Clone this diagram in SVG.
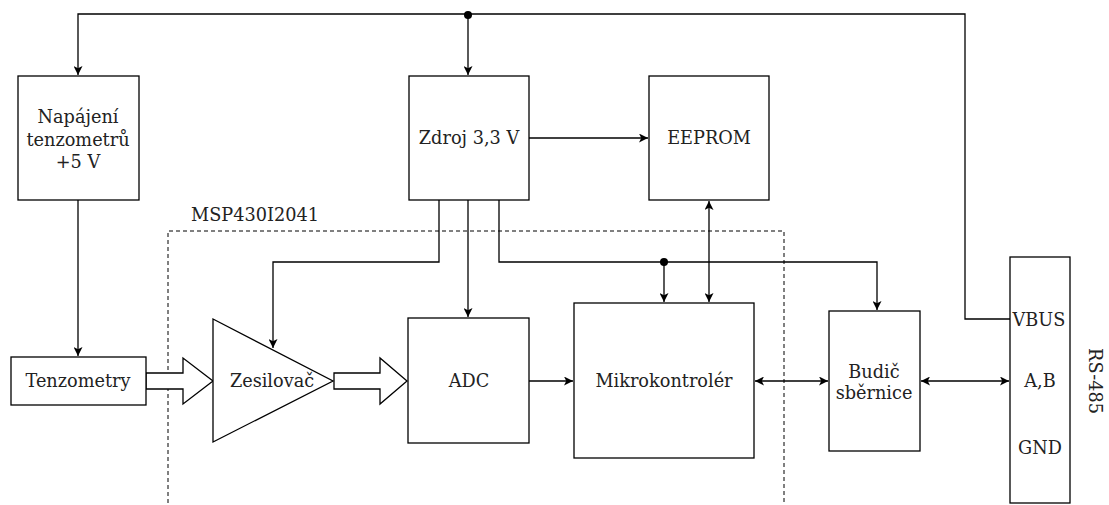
<svg xmlns="http://www.w3.org/2000/svg" width="1109" height="505" viewBox="0 0 1109 505">
<style>
.box{fill:#fff;stroke:#000;stroke-width:1.3}
.ln{fill:none;stroke:#000;stroke-width:1.3}
.t{font-family:'DejaVu Serif',serif;font-size:17.7px;fill:#222;text-anchor:middle;dominant-baseline:central}
.dot{fill:#000}
</style>
<defs>
<marker id="ah" viewBox="0 0 10 10" refX="10" refY="5" markerWidth="9" markerHeight="9" markerUnits="userSpaceOnUse" orient="auto-start-reverse">
<path d="M0,0 L10,5 L0,10 L2.5,5 Z" fill="#000"/>
</marker>
</defs>
<rect width="1109" height="505" fill="#fff"/>
<g id="msp430">
<path d="M168,510 V231 H784 V510" fill="none" stroke="#000" stroke-width="1" stroke-dasharray="4,3"/>
<text class="t" x="255" y="215">MSP430I2041</text>
</g>
<g id="connectors">
<path class="ln" d="M1010,319 H965 V14 H78 V75" marker-end="url(#ah)"/>
<path class="ln" d="M468,14 V75" marker-end="url(#ah)"/>
<circle class="dot" cx="468" cy="15" r="4"/>
<path class="ln" d="M78,200 V356" marker-end="url(#ah)"/>
<path class="ln" d="M529,138 H648" marker-end="url(#ah)"/>
<path class="ln" d="M439,200 V262 H273 V348" marker-end="url(#ah)"/>
<path class="ln" d="M468,200 V317" marker-end="url(#ah)"/>
<path class="ln" d="M499,200 V262 H877 V310" marker-end="url(#ah)"/>
<circle class="dot" cx="664" cy="262" r="4"/>
<path class="ln" d="M664,262 V302" marker-end="url(#ah)"/>
<path class="ln" d="M709,201 V302" marker-start="url(#ah)" marker-end="url(#ah)"/>
<path class="ln" d="M529,381 H573" marker-end="url(#ah)"/>
<path class="ln" d="M755,381 H828" marker-start="url(#ah)" marker-end="url(#ah)"/>
<path class="ln" d="M921,381 H1009" marker-start="url(#ah)" marker-end="url(#ah)"/>
<path class="box" d="M146,373 H183 V358 L213,381 L183,404 V389 H146 Z"/>
<path class="box" d="M334,373 H380 V358 L407,381 L380,404 V389 H334 Z"/>
</g>
<g id="napajeni">
<rect class="box" x="18" y="76" width="121" height="124"/>
<text class="t" x="78" y="117">Napájení</text>
<text class="t" x="78" y="139.5">tenzometrů</text>
<text class="t" x="78" y="162">+5 V</text>
</g>
<g id="zdroj">
<rect class="box" x="409" y="76" width="120" height="124"/>
<text class="t" x="469" y="138">Zdroj 3,3 V</text>
</g>
<g id="eeprom">
<rect class="box" x="649" y="76" width="120" height="124"/>
<text class="t" x="709" y="138">EEPROM</text>
</g>
<g id="tenzometry">
<rect class="box" x="11" y="357" width="135" height="48"/>
<text class="t" x="78" y="381">Tenzometry</text>
</g>
<g id="zesilovac">
<path class="box" d="M213,319 L333,381 L213,442 Z"/>
<text class="t" x="272" y="381">Zesilovač</text>
</g>
<g id="adc">
<rect class="box" x="408" y="318" width="121" height="125"/>
<text class="t" x="469" y="381">ADC</text>
</g>
<g id="mikrokontroler">
<rect class="box" x="574" y="303" width="180" height="155"/>
<text class="t" x="664" y="381">Mikrokontrolér</text>
</g>
<g id="budic">
<rect class="box" x="829" y="311" width="91" height="140"/>
<text class="t" x="874" y="372">Budič</text>
<text class="t" x="874" y="393">sběrnice</text>
</g>
<g id="rs485">
<rect class="box" x="1010" y="257" width="60" height="246"/>
<text class="t" x="1039" y="320">VBUS</text>
<text class="t" x="1040" y="381">A,B</text>
<text class="t" x="1040" y="448">GND</text>
<text class="t" transform="translate(1095,381) rotate(90)">RS-485</text>
</g>
</svg>
